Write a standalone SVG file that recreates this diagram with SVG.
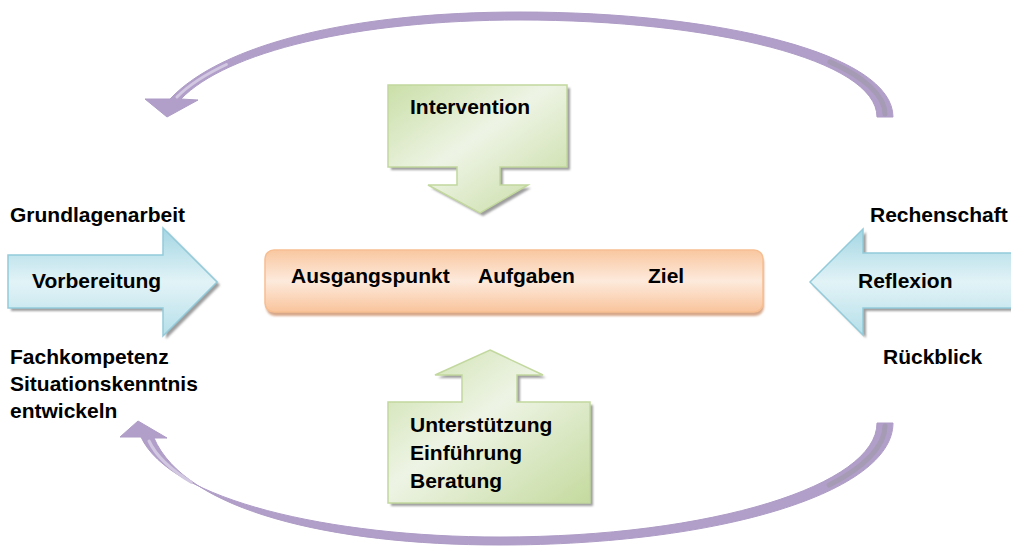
<svg xmlns="http://www.w3.org/2000/svg" width="1011" height="547" viewBox="0 0 1011 547">
<defs>
<linearGradient id="gBlue" x1="0" y1="0" x2="0" y2="1">
<stop offset="0" stop-color="#A3D6E3"/>
<stop offset="0.5" stop-color="#E2F3F7"/>
<stop offset="1" stop-color="#B5DFE9"/>
</linearGradient>
<linearGradient id="gOrange" x1="0" y1="0" x2="0" y2="1">
<stop offset="0" stop-color="#F9C7A0"/>
<stop offset="0.5" stop-color="#FDEADC"/>
<stop offset="1" stop-color="#F9C49C"/>
</linearGradient>
<linearGradient id="gGreen" x1="0" y1="0" x2="1" y2="1">
<stop offset="0" stop-color="#CADFA8"/>
<stop offset="0.45" stop-color="#EEF4E5"/>
<stop offset="1" stop-color="#C4DA9E"/>
</linearGradient>
<filter id="blur" x="-10%" y="-10%" width="120%" height="120%">
<feGaussianBlur stdDeviation="1"/>
</filter>
<style>
.t{font-family:"Liberation Sans",Arial,sans-serif;font-weight:bold;font-size:21px;fill:#000}
.sh{fill:#9E9E9E;filter:url(#blur)}
.blue{fill:url(#gBlue);stroke:#93CBDA;stroke-width:1.5}
.green{fill:url(#gGreen);stroke:#C2D89E;stroke-width:1.5}
.purple{fill:#B19FC9;stroke:#AE9CC6;stroke-width:1}
.hl{fill:none;stroke:#D2C8E2;stroke-width:3;stroke-linecap:round}
.dk{fill:none;stroke:#A59BB4;stroke-width:5;stroke-linecap:round}
</style>
</defs>

<g id="connectors">
<path class="purple" d="M893,117 C893,54 720,12 520,12 C352,12 222,44 170,99 L145,99 L167,117 L198,100 L181,99 C226,52 356,20 520,20 C712,20 877,60 877,117 Z"/>
<path class="hl" d="M177,97 C187.6,86.3 204.8,74.7 226.4,64.5"/>
<path class="dk" d="M885,114 C885,96 864.8,77.3 829.9,61.9"/>
<path class="purple" d="M893,423 C893,492 720,545 500,545 C330,545 185,510 154,438 L167,438 L138,421 L120,437 L141,437 C170,500 330,537 500,537 C712,537 877,485 877,423 Z"/>
<path class="hl" d="M149,441 C155,454 170.2,469.3 191.3,482.3"/>
<path class="dk" d="M885,426 C885,445.75 864.8,467 829.1,485.1"/>
</g>

<g id="vorbereitung">
<polygon class="sh" points="11,258 166,258 166,231 220,285 166,339 166,311 11,311"/>
<polygon class="blue" points="8,255 163,255 163,228 217,282 163,336 163,308 8,308"/>
<text class="t" x="32" y="288">Vorbereitung</text>
</g>

<g id="reflexion">
<polygon class="sh" points="1016,256 866,256 866,232 813,285 866,338 866,311 1016,311"/>
<polygon class="blue" points="1015,253 863,253 863,229 810,282 863,335 863,308 1015,308"/>
<text class="t" x="858" y="288">Reflexion</text>
</g>

<g id="zentrum">
<rect x="266" y="254" width="498" height="62" rx="9" fill="#D7A88A" filter="url(#blur)"/>
<rect x="265" y="250" width="498" height="62" rx="9" fill="url(#gOrange)" stroke="#F7BE92" stroke-width="1.5"/>
<text class="t" x="291" y="283">Ausgangspunkt</text>
<text class="t" x="478" y="283">Aufgaben</text>
<text class="t" x="648" y="283">Ziel</text>
</g>

<g id="intervention">
<polygon class="sh" points="391,88 570,88 570,170 503,170 503,188 531,188 483,216 431,188 460,188 460,170 391,170"/>
<polygon class="green" points="388,85 567,85 567,167 500,167 500,185 528,185 480,213 428,185 457,185 457,167 388,167"/>
<text class="t" x="410" y="114">Intervention</text>
</g>

<g id="unterstuetzung">
<polygon class="sh" points="493,353 546,378 520,378 520,405 593,405 593,506 391,506 391,405 465,405 465,378 438,378"/>
<polygon class="green" points="490,350 543,375 517,375 517,402 590,402 590,503 388,503 388,402 462,402 462,375 435,375"/>
<text class="t" x="410" y="432">Unterstützung</text>
<text class="t" x="410" y="460">Einführung</text>
<text class="t" x="410" y="488">Beratung</text>
</g>

<g id="labels">
<text class="t" x="10" y="222">Grundlagenarbeit</text>
<text class="t" x="10" y="364">Fachkompetenz</text>
<text class="t" x="10" y="391">Situationskenntnis</text>
<text class="t" x="10" y="418">entwickeln</text>
<text class="t" x="870" y="222">Rechenschaft</text>
<text class="t" x="883" y="364">Rückblick</text>
</g>
</svg>
